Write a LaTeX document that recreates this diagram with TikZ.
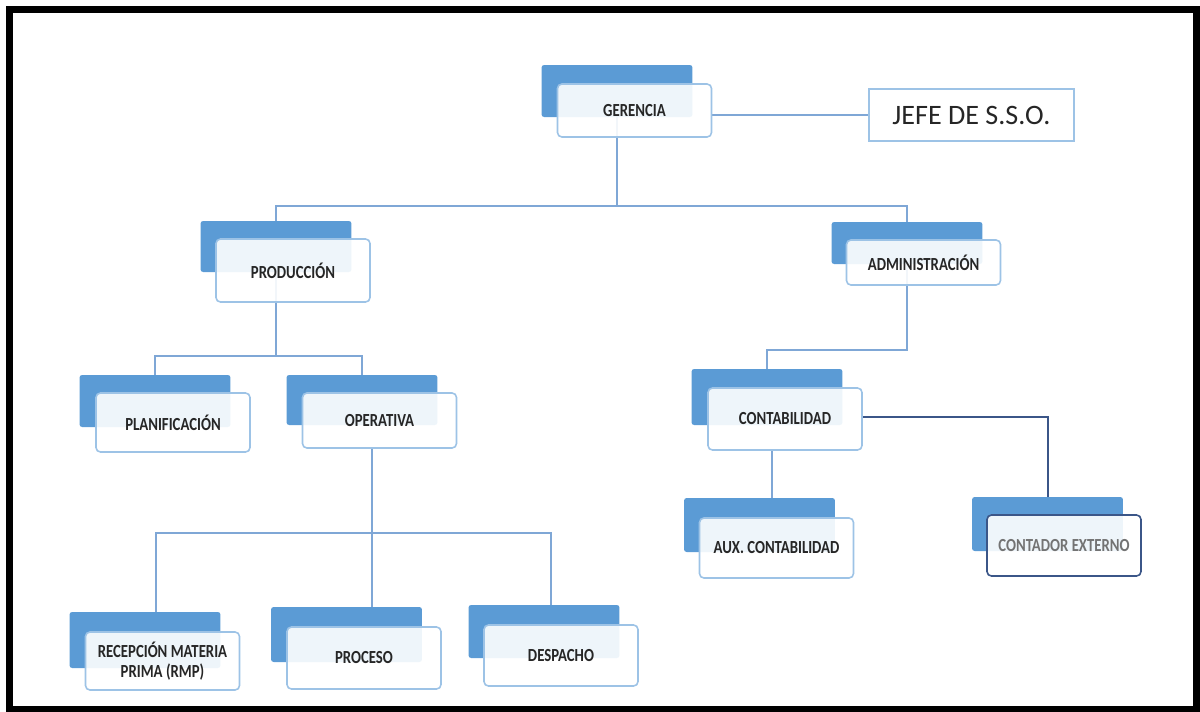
\documentclass[tikz,border=0pt]{standalone}
\usepackage{fontspec}
\setmainfont{Carlito}
\newfontfamily\boxfont[FakeStretch=0.8]{Carlito}
\usepackage{xcolor}

\definecolor{backblue}{HTML}{5B9BD5}
\definecolor{edgeblue}{HTML}{9DC3E6}
\definecolor{linkblue}{HTML}{7FA7D6}
\definecolor{navy}{HTML}{3B5688}

\pgfdeclarelayer{background}
\pgfsetlayers{background,main}

\tikzset{
  backbox/.style={fill=backblue, rounded corners=1.5pt, inner sep=0pt,
    minimum width=3.02cm, minimum height=1.04cm},
  frontbox/.style={draw=edgeblue, line width=0.9pt, fill=white, fill opacity=0.9,
    text opacity=1, rounded corners=2.5pt, inner sep=0pt, align=center,
    minimum width=3.08cm, font=\boxfont\bfseries\fontsize{10.5}{11}\selectfont,
    text=black!85},
  link/.style={draw=linkblue, line width=1.1pt},
}

\begin{document}
\begin{tikzpicture}[%
      x=0.02cm, y=-0.02cm,
      ]
      \useasboundingbox (0,0) rectangle (1200,711);
      \draw [line width=7*0.569pt] (9.5,9.5) rectangle (1196,709.5);

      % gerencia
      \node [backbox] (gerB) at (617,91) {};
      \node [frontbox, minimum height=1.06cm] (ger) at (634.5,110.5) {GERENCIA};
      \node [draw=edgeblue, line width=0.9pt, minimum width=4.1cm, minimum height=1.04cm,
        font=\fontsize{16}{19}\selectfont, text=black!85] (sso) at (971.5,115) {JEFE DE S.S.O.};

      % produccion
      \node [backbox, minimum height=1.02cm] (proB) at (276,246.5) {};
      \node [frontbox, minimum height=1.26cm] (pro) at (293,270.5) {PRODUCCIÓN};
      \node [backbox] (plaB) at (155,401) {};
      \node [frontbox, minimum height=1.18cm] (pla) at (173,422.5) {PLANIFICACIÓN};
      \node [backbox, minimum height=1.0cm] (opeB) at (362,400) {};
      \node [frontbox, minimum height=1.1cm] (ope) at (379.5,420.5) {OPERATIVA};
      \node [backbox, minimum height=1.12cm] (rmpB) at (145,640) {};
      \node [frontbox, minimum height=1.16cm] (rmp) at (162.5,661) {RECEPCIÓN MATERIA\\PRIMA (RMP)};
      \node [backbox, minimum height=1.1cm] (pcsB) at (346.5,634.5) {};
      \node [frontbox, minimum height=1.24cm] (pcs) at (364,658) {PROCESO};
      \node [backbox, minimum height=1.06cm] (desB) at (544,631.5) {};
      \node [frontbox, minimum height=1.22cm] (des) at (561,655.5) {DESPACHO};

      % administracion
      \node [backbox, minimum height=0.84cm] (admB) at (907,243) {};
      \node [frontbox, minimum height=0.9cm] (adm) at (923.5,262.5) {ADMINISTRACIÓN};
      \node [backbox, minimum height=1.12cm] (conB) at (767,397) {};
      \node [frontbox, minimum height=1.24cm] (con) at (785,419) {CONTABILIDAD};
      \node [backbox, minimum height=1.08cm] (auxB) at (759.5,525) {};
      \node [frontbox, minimum height=1.2cm] (aux) at (776.5,548) {AUX. CONTABILIDAD};
      \node [backbox, minimum height=1.08cm] (extB) at (1047.5,524) {};
      \node [frontbox, draw=navy, minimum height=1.22cm, text=black!55] (ext) at (1064,545.5) {CONTADOR EXTERNO};

      \begin{pgfonlayer}{background}
      \coordinate (j1) at (617,206);
      \coordinate (j2) at (276,356);
      \coordinate (j3) at (907,350);
      \coordinate (j4) at (372,533);
      \draw [link] (gerB) -- (j1) -| (proB.north);
      \draw [link] (j1) -| (admB.north);
      \draw [link] (ger.east |- sso.west) -- (sso.west);

      \draw [link] (proB) -- (j2) -| (plaB.north);
      \draw [link] (j2) -| (opeB.north);
      \draw [link] (j4 |- ope.south) -- (j4) -- (j4 |- pcsB.north);
      \draw [link] (j4) -| (rmpB.north -| 156,0);
      \draw [link] (j4) -| (desB.north -| 551,0);

      \draw [link] (admB) -- (j3) -| (conB.north);
      \draw [link] (con.south -| 772,0) -- (auxB.north -| 772,0);
      \draw [draw=navy, line width=1.1pt] (con.east |- 0,417) -| (extB.north -| 1048,0);
      \end{pgfonlayer}
      \end{tikzpicture}
\end{document}
